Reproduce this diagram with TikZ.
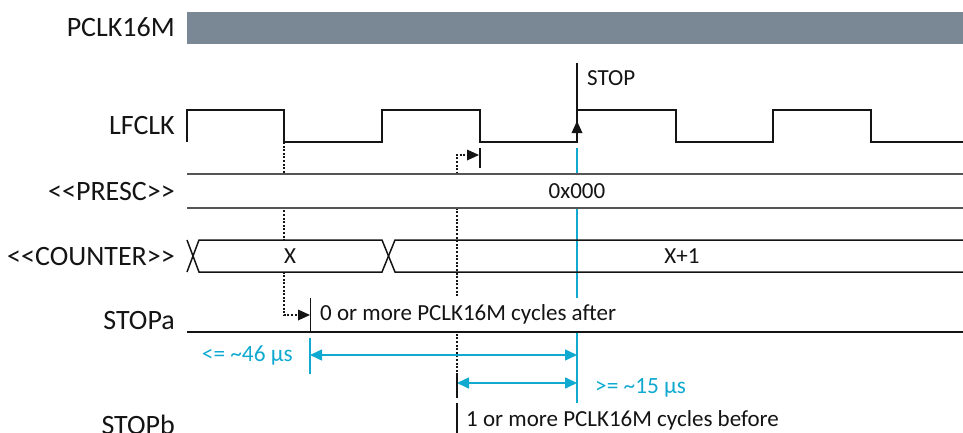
\documentclass[tikz,border=0pt]{standalone}
\usepackage{fontspec}
\setmainfont{Carlito}
\usetikzlibrary{arrows.meta}
\definecolor{barcol}{RGB}{122,136,150}
\definecolor{cy}{RGB}{16,170,208}
\definecolor{bandline}{RGB}{85,85,85}
\definecolor{ink}{RGB}{20,20,20}
\begin{document}
\begin{tikzpicture}[x=1pt,y=-1pt,
  lbl/.style={anchor=base east, font=\fontsize{28}{32}\selectfont, inner sep=0pt, text=ink},
  smalltxt/.style={font=\fontsize{23}{27}\selectfont, inner sep=0pt, text=ink},
  cytxt/.style={font=\fontsize{23.3}{27}\selectfont, inner sep=0pt, text=cy},
  wave/.style={line width=1.8pt, draw=ink},
  band/.style={line width=1.3pt, draw=bandline},
  cband/.style={line width=1.5pt, draw=ink},
  dotline/.style={line width=1.3pt, draw=ink, dash pattern=on 2pt off 1.6pt},
  tick/.style={line width=1.8pt, draw=ink},
  thintick/.style={line width=1pt, draw=ink},
  cyline/.style={line width=1.5pt, draw=cy},
  cyarrow/.style={line width=1.5pt, draw=cy, {Triangle[length=12pt,width=11pt]}-{Triangle[length=12pt,width=11pt]}}
]
\useasboundingbox (0,0) rectangle (963,433);

% ---- signal labels
\node[lbl] (lpclk) at (175,37) {PCLK16M};
\node[lbl] (llf) at (175,135) {LFCLK};
\node[lbl] (lpresc) at (175,200) {<\kern0pt<PRESC>\kern0pt>};
\node[lbl] (lcnt) at (175,265) {<\kern0pt<COUNTER>\kern0pt>};
\node[lbl] (lstopa) at (175,329) {STOPa};
\node[lbl] (lstopb) at (175,434) {STOPb};

% ---- PCLK16M bar
\fill[barcol] (187,12) rectangle (963,44);

% ---- coordinates
\coordinate (stopTop) at (577,63);
\coordinate (stopLow) at (577,142);
\coordinate (stopTip) at (577,121);
\coordinate (cyTop) at (577,148);
\coordinate (cyBot) at (577,403);
\coordinate (dA0) at (284,142);
\coordinate (dA1) at (284,315);
\coordinate (dAtip) at (310,315);
\coordinate (dB0) at (457,397);
\coordinate (dB1) at (457,155);
\coordinate (dBtip) at (480,155);
\coordinate (tk1a) at (480,148);
\coordinate (tk1b) at (480,168);
\coordinate (tk2a) at (310,298);
\coordinate (tk2b) at (310,332);
\coordinate (cyt2a) at (310,338);
\coordinate (cyt2b) at (310,374);
\coordinate (a1L) at (310,355);
\coordinate (a1R) at (577,355);
\coordinate (a2L) at (457,383);
\coordinate (a2R) at (577,383);
\coordinate (sbA) at (457,403);
\coordinate (sbB) at (457,433);

% ---- background lines (cyan and dotted), hidden by the bands later
\draw[cyline] (cyTop) -- (cyBot);
\draw[dotline] (dA0) -- (dA1) -- ([xshift=-10pt]dAtip);
\draw[dotline] (dB0) -- (dB1) -- ([xshift=-10pt]dBtip);
\fill[ink] (dAtip) -- ++(-12,-5.5) -- ++(0,11) -- cycle;
\fill[ink] ([xshift=-1pt]dBtip) -- ++(-12,-5.5) -- ++(0,11) -- cycle;

% ---- PRESC band
\fill[white] (187,174) rectangle (963,208);
\draw[band] (187,174) -- (963,174);
\draw[band] (187,208) -- (963,208);
\node[smalltxt] (presc) at (577,191) {0x000};

% ---- COUNTER band
\fill[white] (193,240) -- (199,240) -- (382,240) -- (388,256) -- (382,272) -- (199,272) -- cycle;
\draw[cband] (187,240) -- (199,272) -- (382,272) -- (395,240) -- (963,240);
\draw[cband] (187,272) -- (199,240) -- (382,240) -- (395,272) -- (963,272);
\node[smalltxt] (cx) at (290,256) {X};
\node[smalltxt] (cx1) at (682,256) {X+1};

% ---- LFCLK waveform
\draw[wave] (187,142) -- (187,110) -- (284,110) -- (284,142) -- (382,142) -- (382,110)
  -- (480,110) -- (480,142) -- (577,142) -- (577,110) -- (676,110) -- (676,142)
  -- (773,142) -- (773,110) -- (871,110) -- (871,142) -- (963,142);
\draw[line width=1.5pt, draw=ink] (stopTop) -- (stopLow);
\fill[ink] (stopTip) -- ++(-5.5,12) -- ++(11,0) -- cycle;
\node[smalltxt, anchor=west] (stoptxt) at (587,78) {STOP};
\draw[tick] (tk1a) -- (tk1b);

% ---- STOPa
\node[smalltxt, anchor=south west, fill=white, minimum height=33pt, inner xsep=9pt, inner ysep=0pt] (stopatxt) at (311,331) {0 or more PCLK16M cycles after};
\draw[line width=1.5pt, draw=ink] (187,332) -- (963,332);
\draw[thintick] (tk2a) -- (tk2b);

% ---- timing annotations
\draw[cyline] (cyt2a) -- (cyt2b);
\draw[cyarrow] (a1L) -- (a1R);
\draw[cyarrow] (a2L) -- (a2R);
\draw[dotline] (457,375) -- (457,397);
\node[cytxt, anchor=east] (t46) at (293,356) {<= \textasciitilde46 µs};
\node[cytxt, anchor=west] (t15) at (595,388) {>= \textasciitilde15 µs};

% ---- STOPb
\draw[tick] (sbA) -- (sbB);
\node[smalltxt, anchor=west] (stopbtxt) at (466,420) {1 or more PCLK16M cycles before};
\end{tikzpicture}
\end{document}
